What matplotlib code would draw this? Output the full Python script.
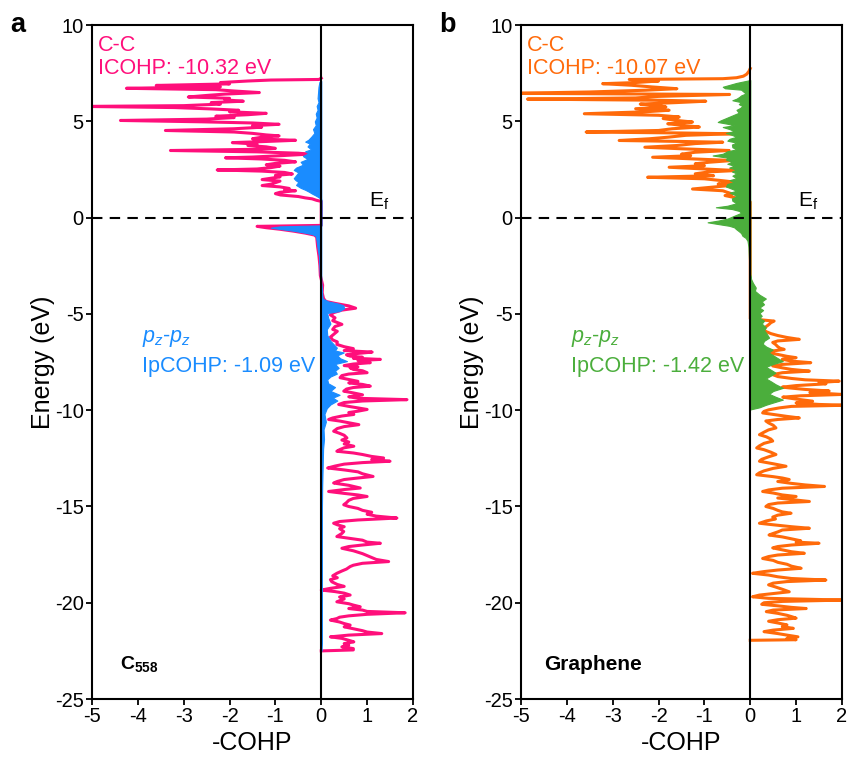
import numpy as np
import matplotlib
matplotlib.use("Agg")
import matplotlib.pyplot as plt

plt.rcParams['font.family'] = ['Liberation Sans', 'DejaVu Sans']
plt.rcParams['mathtext.fontset'] = 'custom'
plt.rcParams['mathtext.rm'] = 'Liberation Sans'
plt.rcParams['mathtext.it'] = 'Liberation Sans:italic'
plt.rcParams['mathtext.bf'] = 'Liberation Sans:bold'
plt.rcParams['axes.unicode_minus'] = False

# ---- panel a : C558, C-C total COHP (energy, -COHP) ----
a_cc_energy = [7.25, 7.18, 7.15, 7.10, 7.02, 6.95, 6.87, 6.80, 6.72, 6.65, 6.58, 6.50, 6.42, 6.35, 6.27,
               6.20, 6.12, 6.05, 5.98, 5.90, 5.82, 5.78, 5.72, 5.65, 5.58, 5.50, 5.42, 5.35, 5.27, 5.20, 5.12,
               5.05, 4.98, 4.92, 4.85, 4.78, 4.70, 4.62, 4.53, 4.45, 4.38, 4.30, 4.25, 4.18, 4.10, 4.02, 3.95,
               3.90, 3.82, 3.75, 3.68, 3.60, 3.55, 3.49, 3.42, 3.35, 3.30, 3.22, 3.15, 3.11, 3.05, 2.98, 2.90,
               2.82, 2.75, 2.68, 2.60, 2.53, 2.48, 2.42, 2.35, 2.27, 2.20, 2.12, 2.05, 1.98, 1.90, 1.82, 1.74,
               1.67, 1.60, 1.52, 1.45, 1.40, 1.32, 1.25, 1.18, 1.10, 1.03, 0.98, 0.90, 0.85,
               -0.40, -0.45, -0.52, -0.60, -0.70, -0.80, -0.90, -1.0, -1.5, -2.0, -2.5, -3.0, -3.5, -3.9,
               -4.2, -4.35, -4.45, -4.58, -4.70, -4.80, -4.93, -5.05, -5.2, -5.35, -5.54, -5.65, -5.8, -5.9,
               -6.06, -6.2, -6.35, -6.45, -6.58, -6.7, -6.80, -6.90, -6.98, -7.05, -7.12, -7.19, -7.25, -7.30,
               -7.36, -7.42, -7.48, -7.53, -7.60, -7.68, -7.75, -7.80, -7.88, -7.95, -8.05, -8.12, -8.20, -8.31,
               -8.40, -8.50, -8.58, -8.66, -8.75, -8.82, -8.90, -9.01, -9.10, -9.20, -9.30, -9.38, -9.45, -9.52,
               -9.60, -9.70, -9.80, -9.88, -9.96, -10.05, -10.12, -10.22, -10.30, -10.40, -10.48, -10.56, -10.65,
               -10.75, -10.85, -10.95, -11.09, -11.2, -11.3, -11.44, -11.55, -11.65, -11.75, -11.87, -11.95,
               -12.05, -12.13, -12.22, -12.30, -12.40, -12.48, -12.56, -12.65, -12.72, -12.80, -12.90, -13.0,
               -13.1, -13.2, -13.3, -13.44, -13.52, -13.6, -13.7, -13.78, -13.9, -14.04, -14.12, -14.22, -14.32,
               -14.40, -14.48, -14.58, -14.68, -14.80, -14.91, -15.0, -15.1, -15.2, -15.3, -15.4, -15.5, -15.6,
               -15.7, -15.78, -15.87, -15.95, -16.05, -16.15, -16.3, -16.4, -16.56, -16.65, -16.75, -16.85,
               -16.91, -17.0, -17.08, -17.17, -17.3, -17.45, -17.55, -17.65, -17.75, -17.86, -17.95, -18.05,
               -18.12, -18.25, -18.35, -18.47, -18.6, -18.7, -18.8, -18.91, -19.05, -19.15, -19.25, -19.34,
               -19.42, -19.5, -19.6, -19.7, -19.8, -19.95, -20.05, -20.12, -20.21, -20.3, -20.38, -20.45, -20.52,
               -20.6, -20.68, -20.75, -20.82, -20.9, -21.0, -21.08, -21.16, -21.25, -21.35, -21.45, -21.52,
               -21.6, -21.68, -21.77, -21.85, -21.95, -22.03, -22.12, -22.2, -22.29, -22.38, -22.45, -22.5]
a_cc_value = [0, -0.05, -1.1, -1.6, -2.2, -2.0, -3.6, -2.2, -4.25, -2.3, -1.9, -1.35, -2.1, -2.5, -2.9,
              -2.0, -2.1, -1.7, -2.4, -2.2, -3.0, -5.2, -3.2, -2.4, -1.8, -2.0, -1.2, -1.6, -2.3, -1.9, -2.5,
              -4.38, -2.6, -1.5, -0.92, -1.5, -1.3, -1.9, -3.40, -1.9, -1.5, -1.2, -0.92, -1.3, -1.5, -0.56, -1.3,
              -1.94, -1.4, -1.6, -1.2, -1.0, -1.5, -3.29, -1.4, -0.5, -0.27, -0.9, -1.5, -2.09, -1.3, -0.8, -0.56,
              -1.0, -1.2, -0.9, -1.1, -1.4, -2.27, -1.3, -0.8, -0.63, -1.0, -0.9, -1.1, -1.29, -0.9, -1.0, -1.1,
              -1.29, -0.9, -0.7, -0.8, -0.56, -0.9, -1.0, -0.89, -0.5, -0.35, -0.2, -0.1, 0.0,
              0.0, -1.40, -1.2, -0.9, -0.6, -0.35, -0.15, -0.1, -0.08, -0.05, -0.03, -0.02, 0.03, 0.02,
              0.05, 0.1, 0.3, 0.6, 0.75, 0.45, 0.27, 0.2, 0.3, 0.25, 0.45, 0.3, 0.25, 0.35,
              0.27, 0.2, 0.25, 0.35, 0.34, 0.5, 0.7, 0.5, 1.11, 0.8, 0.55, 0.63, 0.9, 0.7,
              1.29, 0.8, 0.9, 1.07, 0.7, 0.5, 0.8, 0.63, 0.7, 0.9, 1.0, 0.6, 0.45, 0.41,
              0.6, 0.8, 0.6, 0.9, 1.07, 0.7, 0.55, 0.49, 0.7, 0.9, 0.6, 0.8, 1.87, 0.9,
              0.5, 0.38, 0.6, 0.8, 1.0, 0.8, 0.6, 0.71, 0.45, 0.25, 0.16, 0.4, 0.6,
              0.82, 0.5, 0.35, 0.27, 0.4, 0.5, 0.56, 0.45, 0.6, 0.5, 0.71, 0.5,
              0.4, 0.34, 0.7, 0.9, 1.1, 1.36, 1.1, 1.5, 0.9, 0.5, 0.3, 0.14,
              0.5, 0.8, 0.9, 1.13, 0.8, 0.5, 0.35, 0.27, 0.6, 0.85, 0.5, 0.16, 0.5,
              0.8, 1.0, 0.7, 0.6, 0.55, 0.49, 0.6, 0.8, 0.9, 1.1, 1.0, 1.2, 1.65,
              0.8, 0.4, 0.27, 0.35, 0.5, 0.4, 0.49, 0.45, 0.34, 0.6, 0.9, 1.0,
              1.29, 0.9, 0.6, 0.45, 0.7, 0.9, 1.0, 1.1, 1.2, 1.47, 0.9, 0.7,
              0.63, 0.55, 0.45, 0.34, 0.25, 0.35, 0.2, 0.23, 0.35, 0.5, 0.2, 0.0,
              0.3, 0.5, 0.63, 0.4, 0.5, 0.34, 0.6, 0.7, 0.85, 0.6, 0.9, 1.0, 1.83,
              1.0, 0.6, 0.4, 0.34, 0.2, 0.4, 0.5, 0.63, 0.5, 0.7, 0.9, 1.0,
              1.32, 0.6, 0.2, 0.45, 0.6, 0.71, 0.5, 0.6, 0.45, 0.7, 0.7, 0.0]

# ---- panel a : pz-pz projected COHP ----
a_pz_energy = [7.1, 7.05, 6.8, 6.5, 6.2, 6.0, 5.8, 5.6, 5.4, 5.2, 5.0, 4.8, 4.6, 4.4, 4.2, 4.05, 3.95,
               3.85, 3.7, 3.55, 3.45, 3.35, 3.2, 3.05, 2.9, 2.75, 2.6, 2.48, 2.35, 2.2, 2.05, 1.95, 1.85,
               1.7, 1.55, 1.45, 1.35, 1.25, 1.15, 1.05, 0.95, -0.40, -0.45, -0.52, -0.60, -0.68, -0.76,
               -0.85, -0.95, -1.2, -1.6, -2.0, -2.5, -3.0, -3.5, -4.2, -4.35, -4.45, -4.55, -4.7, -4.85,
               -4.95, -5.2, -5.5, -5.8, -6.1, -6.4, -6.6, -6.75, -6.9, -7.0, -7.15, -7.3, -7.45, -7.6,
               -7.8, -7.95, -8.1, -8.25, -8.4, -8.6, -8.8, -9.0, -9.2, -9.35, -9.5, -9.7, -9.9, -10.2,
               -10.6, -11.0, -11.5, -12.0, -13.0, -14.0, -16.0, -22.0, -22.5]
a_pz_value = [0, -0.04, -0.06, -0.07, -0.08, -0.06, -0.1, -0.08, -0.12, -0.1, -0.14, -0.12, -0.18, -0.15,
              -0.22, -0.28, -0.35, -0.25, -0.3, -0.22, -0.35, -0.28, -0.4, -0.3, -0.45, -0.4, -0.55, -0.6,
              -0.5, -0.55, -0.6, -0.56, -0.5, -0.55, -0.45, -0.35, -0.27, -0.2, -0.12, -0.05, 0.0, 0.0,
              -0.9, -1.1, -0.85, -0.6, -0.4, -0.2, -0.12, -0.1, -0.08, -0.05, -0.04, -0.03, 0.0, 0.03,
              0.15, 0.35, 0.48, 0.5, 0.4, 0.13, 0.15, 0.2, 0.12, 0.13, 0.2, 0.28, 0.34, 0.3, 0.49, 0.35,
              0.41, 0.56, 0.3, 0.38, 0.3, 0.34, 0.2, 0.13, 0.15, 0.3, 0.2, 0.4, 0.25, 0.35, 0.2, 0.12,
              0.07, 0.1, 0.05, 0.06, 0.04, 0.03, 0.02, 0.01, 0.01, 0]

# ---- panel b : graphene, C-C total COHP ----
b_cc_energy = [7.75, 7.6, 7.45, 7.35, 7.27, 7.22, 7.2, 7.18, 7.1, 7.02, 6.96, 6.88, 6.79, 6.70, 6.62, 6.53,
               6.46, 6.40, 6.30, 6.22, 6.16, 6.10, 6.05, 5.98, 5.90, 5.82, 5.75, 5.66, 5.58, 5.50, 5.40, 5.32,
               5.23, 5.15, 5.05, 4.97, 4.88, 4.80, 4.71, 4.62, 4.53, 4.45, 4.40, 4.36, 4.28, 4.18, 4.10, 4.01,
               3.96, 3.92, 3.85, 3.75, 3.66, 3.58, 3.49, 3.40, 3.30, 3.22, 3.14, 3.05, 2.97, 2.88, 2.80, 2.70,
               2.62, 2.53, 2.45, 2.38, 2.28, 2.18, 2.10, 2.02, 1.92, 1.84, 1.75, 1.66, 1.57, 1.49, 1.40, 1.32,
               1.23, 1.15, 1.05, 0.97, 0.88, 0.82,
               -5.25, -5.37, -5.45, -5.54, -5.65, -5.80, -5.92, -6.02, -6.12, -6.22, -6.32, -6.40, -6.48,
               -6.58, -6.70, -6.78, -6.84, -6.92, -7.0, -7.10, -7.20, -7.27, -7.35, -7.45, -7.53, -7.62, -7.70,
               -7.80, -7.88, -7.97, -8.05, -8.15, -8.25, -8.35, -8.42, -8.49, -8.56, -8.63, -8.72, -8.80, -8.84,
               -8.92, -9.0, -9.08, -9.18, -9.25, -9.32, -9.42, -9.53, -9.62, -9.70, -9.74, -9.80, -9.88, -9.98,
               -10.06, -10.14, -10.22, -10.32, -10.40, -10.48, -10.56, -10.66, -10.78, -10.92, -11.02, -11.14,
               -11.27, -11.38, -11.50, -11.60, -11.72, -11.85, -11.96, -12.05, -12.18, -12.30, -12.42, -12.55,
               -12.65, -12.78, -12.91, -13.02, -13.15, -13.25, -13.35, -13.45, -13.52, -13.60, -13.70, -13.80,
               -13.88, -13.96, -14.05, -14.14, -14.22, -14.30, -14.40, -14.48, -14.56, -14.64, -14.74, -14.82,
               -14.90, -15.00, -15.10, -15.20, -15.28, -15.35, -15.45, -15.55, -15.65, -15.75, -15.87, -15.95,
               -16.05, -16.13, -16.22, -16.32, -16.40, -16.48, -16.58, -16.68, -16.78, -16.85, -16.91, -17.0,
               -17.08, -17.15, -17.25, -17.35, -17.43, -17.52, -17.60, -17.70, -17.80, -17.90, -18.00, -18.10,
               -18.21, -18.30, -18.38, -18.47, -18.56, -18.65, -18.74, -18.82, -18.90, -18.98, -19.07, -19.18,
               -19.30, -19.43, -19.52, -19.60, -19.69, -19.77, -19.86, -19.93, -20.00, -20.08, -20.16, -20.24,
               -20.30, -20.38, -20.46, -20.55, -20.65, -20.72, -20.80, -20.88, -20.96, -21.05, -21.15, -21.24,
               -21.33, -21.42, -21.50, -21.60, -21.68, -21.77, -21.85, -21.92, -21.95]
b_cc_value = [0, -0.03, -0.08, -0.15, -0.3, -0.6, -1.5, -2.64, -2.0, -2.5, -3.22, -2.6, -2.13, -1.6, -2.3, -3.5,
              -5.2, -0.45, -2.0, -2.5, -4.86, -2.0, -0.97, -1.6, -2.4, -2.0, -1.84, -2.5, -1.77, -2.3, -3.62, -2.0,
              -1.55, -1.9, -1.6, -1.26, -1.8, -1.5, -1.11, -1.7, -2.0, -3.58, -1.5, -0.39, -1.4, -1.8, -2.2, -2.86,
              -1.5, -0.6, -1.2, -1.6, -2.3, -1.5, -0.46, -1.2, -1.5, -1.3, -2.13, -1.2, -0.39, -0.9, -1.2, -1.0,
              -1.77, -1.0, -0.31, -0.9, -1.2, -0.8, -2.24, -1.0, -0.6, -0.31, -0.7, -0.5, -0.9, -1.26, -0.6, -0.5,
              -0.39, -0.55, -0.35, -0.24, -0.09, 0.0,
              0.0, 0.52, 0.45, 0.41, 0.35, 0.27, 0.35, 0.45, 0.6, 0.8, 1.07, 0.6, 0.49,
              0.55, 0.6, 0.65, 0.74, 0.5, 0.34, 0.6, 0.8, 1.0, 0.7, 0.9, 1.32, 0.7, 0.49,
              0.7, 0.9, 1.29, 0.7, 0.49, 0.6, 0.9, 1.2, 1.94, 1.5, 1.65, 1.0, 0.7, 0.85,
              1.2, 1.72, 1.3, 2.0, 1.1, 0.71, 1.0, 1.36, 1.0, 1.5, 2.1, 0.9, 0.63, 0.4,
              0.3, 0.27, 0.5, 0.8, 1.07, 0.6, 0.34, 0.4, 0.5, 0.56, 0.4, 0.3,
              0.2, 0.35, 0.45, 0.49, 0.3, 0.2, 0.14, 0.3, 0.45, 0.56, 0.4, 0.25,
              0.2, 0.5, 0.78, 0.5, 0.3, 0.2, 0.14, 0.5, 0.7, 0.85, 0.6, 0.9,
              1.2, 1.62, 0.7, 0.4, 0.27, 0.5, 0.7, 1.0, 0.6, 0.9, 1.29, 0.6,
              0.4, 0.34, 0.5, 0.6, 0.7, 0.89, 0.6, 0.49, 0.55, 0.35, 0.2, 0.5,
              0.9, 1.29, 0.7, 0.6, 0.5, 0.41, 0.7, 0.9, 1.1, 1.0, 1.5, 0.9,
              0.6, 0.49, 0.7, 0.9, 1.18, 0.6, 0.4, 0.27, 0.5, 0.6, 0.8, 0.9,
              1.11, 0.6, 0.3, 0.05, 0.4, 0.6, 0.9, 1.65, 0.8, 0.5, 0.4, 0.55,
              0.7, 0.85, 0.5, 0.2, 0.05, 0.4, 2.05, 0.7, 0.3, 0.25, 0.6, 0.9,
              1.22, 0.5, 0.35, 0.6, 0.8, 0.9, 1.0, 0.6, 0.4, 0.6, 0.8, 0.7,
              0.94, 0.5, 0.3, 0.6, 0.8, 1.04, 0.8, 1.0, 0.0]

# ---- panel b : pz-pz projected COHP ----
b_pz_energy = [7.15, 7.1, 7.0, 6.9, 6.8, 6.72, 6.65, 6.55, 6.45, 6.35, 6.27, 6.18, 6.1, 6.0, 5.9, 5.8, 5.7,
               5.6, 5.45, 5.3, 5.15, 5.05, 4.97, 4.88, 4.80, 4.71, 4.60, 4.50, 4.40, 4.30, 4.20, 4.10, 4.00,
               3.90, 3.80, 3.66, 3.55, 3.45, 3.32, 3.23, 3.12, 3.02, 2.90, 2.80, 2.70, 2.60, 2.50, 2.40, 2.30,
               2.18, 2.05, 1.95, 1.85, 1.75, 1.62, 1.50, 1.40, 1.30, 1.20, 1.10, 1.00, 0.88, 0.75, 0.62, 0.54,
               0.45, 0.35, 0.25, 0.15, 0.05, -0.05, -0.15, -0.24, -0.33, -0.42, -0.5, -0.59, -0.7, -0.8, -0.94,
               -1.05, -1.2, -1.5, -2.0, -2.5, -2.9, -3.2, -3.4, -3.63, -3.8, -4.0, -4.2, -4.35, -4.5, -4.67,
               -4.8, -4.95, -5.1, -5.2, -5.35, -5.5, -5.7, -5.85, -6.0, -6.23, -6.4, -6.55, -6.7, -6.85, -7.0,
               -7.15, -7.3, -7.45, -7.6, -7.75, -7.9, -8.05, -8.2, -8.35, -8.5, -8.65, -8.84, -9.0, -9.15,
               -9.3, -9.45, -9.6, -9.72, -9.85, -9.96]
b_pz_value = [0, -0.1, -0.3, -0.45, -0.6, -0.55, -0.2, -0.15, -0.1, -0.2, -0.24, -0.3, -0.39, -0.2, -0.25,
              -0.17, -0.22, -0.3, -0.25, -0.4, -0.55, -0.65, -0.71, -0.5, -0.35, -0.6, -0.45, -0.35, -0.53,
              -0.4, -0.3, -0.45, -0.5, -0.3, -0.4, -0.39, -0.3, -0.5, -0.6, -0.82, -0.5, -0.53, -0.4, -0.5,
              -0.35, -0.46, -0.3, -0.4, -0.3, -0.39, -0.3, -0.45, -0.35, -0.5, -0.53, -0.4, -0.3, -0.45,
              -0.35, -0.3, -0.4, -0.39, -0.3, -0.5, -0.75, -0.4, -0.24, -0.2, -0.3, -0.4, -0.5, -0.7, -0.93,
              -0.7, -0.46, -0.35, -0.31, -0.25, -0.2, -0.17, -0.1, -0.06, -0.04, -0.03, -0.02, -0.01, 0.02,
              0.06, 0.12, 0.1, 0.2, 0.34, 0.25, 0.3, 0.2, 0.28, 0.2, 0.25, 0.2, 0.3, 0.25, 0.34, 0.3, 0.35,
              0.41, 0.3, 0.27, 0.35, 0.49, 0.4, 0.5, 0.6, 0.71, 0.5, 0.34, 0.45, 0.55, 0.45, 0.34, 0.45,
              0.55, 0.71, 0.5, 0.41, 0.55, 0.71, 0.5, 0.34, 0.2, 0.0]

PINK = '#ff0f7b'
BLUE = '#1a8cff'
ORANGE = '#ff6a0a'
GREEN = '#4bae3c'

fig = plt.figure(figsize=(8.49, 7.58), dpi=100)
ax_a = fig.add_axes([0.1084, 0.0778, 0.378, 0.889])
ax_b = fig.add_axes([0.6137, 0.0778, 0.378, 0.889])


def draw_panel(ax, cc_e, cc_v, pz_e, pz_v, c_line, c_fill, icohp, ipcohp, name, letter):
    ax.plot(cc_v, cc_e, color=c_line, lw=2.2, zorder=2, solid_joinstyle='round')
    ax.fill_betweenx(pz_e, 0, pz_v, color=c_fill, lw=0.8, zorder=3)
    ax.axvline(0, color='black', lw=1.5, zorder=4)
    ax.axhline(0, color='black', lw=1.5, ls=(0, (5, 3.5)), zorder=5)

    ax.set_xlim(-5, 2)
    ax.set_ylim(-25, 10)
    ax.set_xticks(range(-5, 3))
    ax.set_yticks(range(-25, 11, 5))
    ax.tick_params(direction='out', length=4, width=1.3, labelsize=14.5, pad=2,
                   top=False, right=False)
    for s in ax.spines.values():
        s.set_linewidth(1.5)
    ax.set_xlabel('-COHP', fontsize=18, labelpad=3)
    ax.set_ylabel('Energy (eV)', fontsize=18, labelpad=0)

    ax.text(-4.88, 8.95, 'C-C', color=c_line, fontsize=15.5, va='center', ha='left')
    ax.text(-4.88, 7.75, 'ICOHP: ' + icohp, color=c_line, fontsize=15.5, va='center', ha='left')
    ax.text(-3.92, -6.25, r'$p_z$-$p_z$', color=c_fill, fontsize=15.5, va='center', ha='left')
    ax.text(-3.92, -7.75, 'IpCOHP: ' + ipcohp, color=c_fill, fontsize=15.5, va='center', ha='left')
    ax.text(1.05, 0.85, r'E$_\mathrm{f}$', fontsize=15, va='center', ha='left')
    ax.text(name[1], -23.2, name[0], fontsize=name[2], fontweight='bold', va='center', ha='left')
    ax.text(-0.255, 1.0, letter, transform=ax.transAxes, fontsize=19.5, fontweight='bold',
            va='center', ha='left')


draw_panel(ax_a, a_cc_energy, a_cc_value, a_pz_energy, a_pz_value, PINK, BLUE,
           '-10.32 eV', '-1.09 eV', (r'$\mathbf{C}_{\mathbf{558}}$', -4.38, 14), 'a')
draw_panel(ax_b, b_cc_energy, b_cc_value, b_pz_energy, b_pz_value, ORANGE, GREEN,
           '-10.07 eV', '-1.42 eV', ('Graphene', -4.5, 15), 'b')

fig.savefig('out.png', dpi=100)
